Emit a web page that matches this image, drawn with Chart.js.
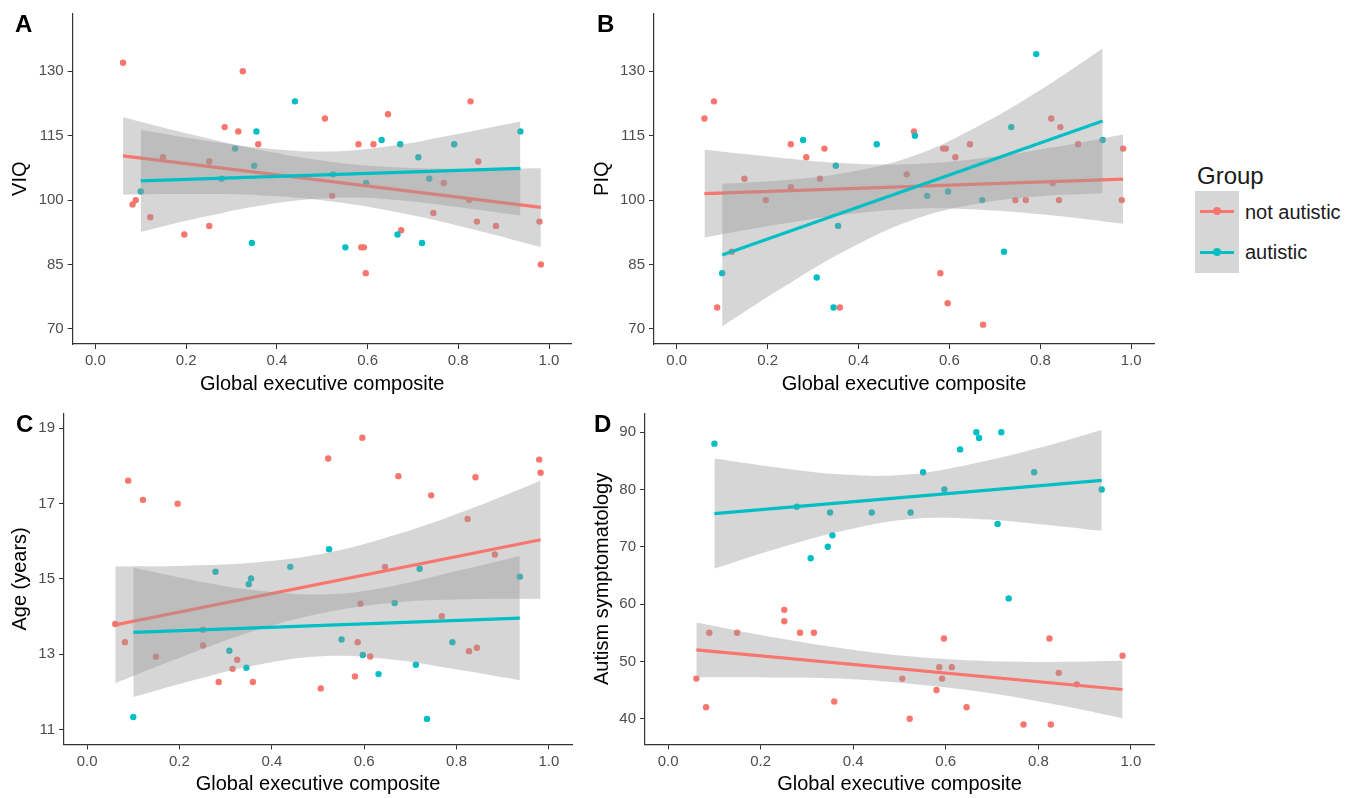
<!DOCTYPE html>
<html>
<head>
<meta charset="utf-8">
<script src="https://cdn.jsdelivr.net/npm/chart.js@4.4.1/dist/chart.umd.min.js"></script>
<style>
  html, body { margin: 0; padding: 0; background: #fff; }
  body { width: 1354px; height: 798px; position: relative; overflow: hidden;
         font-family: "Liberation Sans", Arial, sans-serif; }
  canvas { position: absolute; }
  .tag { position: absolute; font-weight: bold; font-size: 24px; line-height: 24px; color: #000; }
  .legend-title { position: absolute; left: 1197px; top: 164px; font-size: 24px; line-height: 24px; color: #1a1a1a; }
  .key-bg { position: absolute; left: 1195px; top: 191px; width: 44px; height: 82px; background: #d6d6d6; }
  .key-line { position: absolute; left: 1200px; width: 34px; height: 3px; }
  .key-dot { position: absolute; left: 1213px; width: 8px; height: 8px; border-radius: 50%; }
  .key-label { position: absolute; left: 1245px; font-size: 20px; line-height: 20px; color: #1a1a1a; }
</style>
</head>
<body>
<canvas id="pA" width="590" height="400" style="left:0;top:0"></canvas>
<canvas id="pB" width="590" height="400" style="left:580px;top:0"></canvas>
<canvas id="pC" width="590" height="398" style="left:0;top:400px"></canvas>
<canvas id="pD" width="590" height="398" style="left:580px;top:400px"></canvas>

<div class="tag" style="left:15px;top:12px">A</div>
<div class="tag" style="left:597px;top:12px">B</div>
<div class="tag" style="left:16px;top:412px">C</div>
<div class="tag" style="left:594px;top:412px">D</div>

<div class="legend-title">Group</div>
<div class="key-bg"></div>
<div class="key-line" style="top:210px;background:#F8766D"></div>
<div class="key-dot" style="top:207px;background:#F8766D"></div>
<div class="key-line" style="top:251px;background:#00BFC4"></div>
<div class="key-dot" style="top:248px;background:#00BFC4"></div>
<div class="key-label" style="top:202px">not autistic</div>
<div class="key-label" style="top:242px">autistic</div>

<script>
// x = global executive composite, one value per participant
const redX  = [0.061, 0.082, 0.089, 0.121, 0.149, 0.196, 0.251, 0.251, 0.285, 0.315, 0.325, 0.359, 0.506, 0.522, 0.580,
               0.586, 0.592, 0.596, 0.613, 0.645, 0.674, 0.745, 0.768, 0.824, 0.827, 0.841, 0.844, 0.883, 0.979, 0.982];
const tealX = [0.100, 0.278, 0.308, 0.345, 0.350, 0.355, 0.440, 0.524, 0.551, 0.597, 0.631, 0.666, 0.672, 0.712, 0.720,
               0.736, 0.791, 0.937];

// A: VIQ
const viqRed  = [132, 99, 100, 96, 110, 92, 94, 109, 117, 116, 130, 113, 119, 101, 113,
                 89, 89, 83, 113, 120, 93, 97, 104, 100, 123, 95, 109, 94, 95, 85];
const viqTeal = [102, 105, 112, 90, 108, 116, 123, 106, 89, 104, 114, 92, 113, 110, 90, 105, 113, 116];
// B: PIQ
const piqRed  = [119, 123, 75, 88, 105, 100, 113, 103, 110, 105, 112, 75, 106, 116, 83,
                 112, 112, 76, 110, 113, 71, 100, 100, 119, 104, 100, 117, 113, 100, 112];
const piqTeal = [83, 114, 82, 75, 108, 94, 113, 115, 101, 102, null, null, 100, null, 88, 117, 134, 114];
// C: age
const ageRed  = [13.8, 13.32, 17.61, 17.10, 12.93, 17.0, 13.23, 13.65, 12.26, 12.61, 12.85, 12.26, 12.09, 18.2, 12.41,
                 13.32, 14.34, 18.75, 12.94, 15.32, 17.73, 17.22, 14.01, 16.59, 13.08, 17.70, 13.17, 15.65, 18.17, 17.82];
const ageTeal = [11.33, 15.19, 13.09, 12.64, 14.86, 15.01, 15.32, 15.79, 13.39, 12.98, 12.47, 14.36, null, 12.72, 15.27,
                 11.28, 13.32, 15.06];
// D: autism symptomatology
const autRed  = [47, 42, 55, null, 55, null, 59, 57, 55, 55, null, 43, 47, 40, 45,
                 49, 47, 54, 49, 42, null, null, 39, 54, 39, null, 48, 46, null, 51];
const autTeal = [88, 77, 68, 70, 76, 72, 76, 76, 83, 80, 87, 90, 89, 74, 90, 61, 83, 80];

// fitted lines and confidence bands
const redFitX  = [0.061, 0.215, 0.368, 0.522, 0.675, 0.829, 0.982];
const tealFitX = [0.100, 0.240, 0.379, 0.519, 0.658, 0.798, 0.937];

const viqRedLine  = [110.3, 98.3];
const viqRedUp    = [119.3, 115.2, 111.6, 108.9, 107.6, 107.3, 107.4];
const viqRedLo    = [101.3, 101.4, 101.1, 99.7, 97.0, 93.3, 89.1];
const viqTealLine = [104.5, 107.4];
const viqTealUp   = [116.3, 113.9, 112.0, 111.3, 112.7, 115.4, 118.3];
const viqTealLo   = [92.6, 96.1, 99.0, 100.5, 100.1, 98.4, 96.4];

const piqRedLine  = [101.5, 104.9];
const piqRedUp    = [111.7, 110.0, 108.6, 108.4, 109.8, 112.3, 115.3];
const piqRedLo    = [91.3, 94.2, 96.6, 98.0, 97.7, 96.4, 94.5];
const piqTealLine = [87.2, 118.4];
const piqTealUp   = [103.8, 104.7, 106.5, 110.2, 116.9, 125.5, 135.3];
const piqTealLo   = [70.6, 80.1, 88.7, 95.4, 99.1, 100.9, 101.6];

const ageRedLine  = [13.78, 16.04];
const ageRedUp    = [15.33, 15.35, 15.44, 15.70, 16.20, 16.86, 17.61];
const ageRedLo    = [12.23, 12.97, 13.64, 14.12, 14.38, 14.46, 14.47];
const ageTealLine = [13.58, 13.96];
const ageTealUp   = [15.30, 14.94, 14.68, 14.59, 14.80, 15.20, 15.61];
const ageTealLo   = [11.86, 12.34, 12.74, 12.95, 12.86, 12.60, 12.31];

const autRedLine  = [52.0, 45.1];
const autRedUp    = [56.8, 54.4, 52.4, 50.9, 50.1, 49.9, 50.1];
const autRedLo    = [47.2, 47.2, 47.0, 46.1, 44.7, 42.6, 40.1];
const autTealLine = [75.8, 81.6];
const autTealUp   = [85.4, 83.8, 82.6, 82.6, 84.5, 87.2, 90.4];
const autTealLo   = [66.2, 69.8, 72.8, 74.8, 74.9, 74.0, 72.8];

const xTicks   = [0, 0.2, 0.4, 0.6, 0.8, 1.0];
const iqTicks  = [70, 85, 100, 115, 130];
const ageTicks = [11, 13, 15, 17, 19];
const autTicks = [40, 50, 60, 70, 80, 90];

const RED = '#F8766D', TEAL = '#00BFC4', BAND = 'rgba(153,153,153,0.4)';
const FONT = '"Liberation Sans", Arial, sans-serif';
const X_AXIS_H = 52;

function pts(xs, ys) {
  return xs.map((x, i) => ({ x: x, y: ys[i] })).filter(p => p.y !== null);
}

function groupSets(xs, ys, fitX, line, up, lo, color, base) {
  const ends = [fitX[0], fitX[fitX.length - 1]];
  return [
    { type: 'line', data: pts(fitX, up), fill: '+1', backgroundColor: BAND, borderColor: 'rgba(0,0,0,0)',
      borderWidth: 0, pointRadius: 0, tension: 0.4, order: base + 1 },
    { type: 'line', data: pts(fitX, lo), fill: false, borderColor: 'rgba(0,0,0,0)',
      borderWidth: 0, pointRadius: 0, tension: 0.4, order: base + 1 },
    { type: 'line', data: pts(ends, line), fill: false, borderColor: color, borderWidth: 3.2,
      pointRadius: 0, order: base },
    { type: 'scatter', data: pts(xs, ys), backgroundColor: color, borderWidth: 0, pointRadius: 3.2, order: 10 }
  ];
}

function makePanel(p) {
  const datasets = []
    .concat(groupSets(tealX, p.tealY, tealFitX, p.tealLine, p.tealUp, p.tealLo, TEAL, 1))
    .concat(groupSets(redX, p.redY, redFitX, p.redLine, p.redUp, p.redLo, RED, 3));
  const cv = document.getElementById(p.id);
  new Chart(cv, {
    type: 'scatter',
    data: { datasets: datasets },
    options: {
      responsive: false,
      animation: false,
      devicePixelRatio: 1,
      layout: { padding: { left: 0, top: p.area.t, right: cv.width - p.area.r,
                           bottom: cv.height - p.area.b - X_AXIS_H } },
      plugins: { legend: { display: false }, tooltip: { enabled: false } },
      scales: {
        x: {
          type: 'linear', min: -0.05, max: 1.05,
          afterBuildTicks: s => { s.ticks = xTicks.map(v => ({ value: v })); },
          afterFit: s => { s.height = X_AXIS_H; s.paddingLeft = 0; s.paddingRight = 0; },
          grid: { drawOnChartArea: false, drawTicks: true, tickLength: 5, tickColor: '#333', tickWidth: 1 },
          border: { display: true, color: '#333', width: 1.2 },
          ticks: { color: '#4d4d4d', font: { family: FONT, size: 15 }, padding: 3, maxRotation: 0,
                   autoSkip: false, callback: v => v.toFixed(1) },
          title: { display: true, text: 'Global executive composite', color: '#000',
                   font: { family: FONT, size: 20 }, padding: { top: 0, bottom: 0 } }
        },
        y: {
          type: 'linear', min: p.yMin, max: p.yMax,
          afterBuildTicks: s => { s.ticks = p.yTicks.map(v => ({ value: v })); },
          afterFit: s => { s.width = p.area.l; s.paddingTop = 0; s.paddingBottom = 0; },
          grid: { drawOnChartArea: false, drawTicks: true, tickLength: 5, tickColor: '#333', tickWidth: 1 },
          border: { display: true, color: '#333', width: 1.2 },
          ticks: { color: '#4d4d4d', font: { family: FONT, size: 15 }, padding: 4, autoSkip: false },
          title: { display: true, text: p.yTitle, color: '#000',
                   font: { family: FONT, size: 20 }, padding: { top: p.titlePad, bottom: 0 } }
        }
      }
    }
  });
}

const panels = [
  { id: 'pA', area: { l: 72.7, t: 13.3, r: 571.7, b: 344 }, yMin: 66.5, yMax: 143.5, yTicks: iqTicks,
    yTitle: 'VIQ', titlePad: 8, redY: viqRed, tealY: viqTeal,
    redLine: viqRedLine, redUp: viqRedUp, redLo: viqRedLo, tealLine: viqTealLine, tealUp: viqTealUp, tealLo: viqTealLo },
  { id: 'pB', area: { l: 74, t: 13.3, r: 574, b: 344 }, yMin: 66.5, yMax: 143.5, yTicks: iqTicks,
    yTitle: 'PIQ', titlePad: 10, redY: piqRed, tealY: piqTeal,
    redLine: piqRedLine, redUp: piqRedUp, redLo: piqRedLo, tealLine: piqTealLine, tealUp: piqTealUp, tealLo: piqTealLo },
  { id: 'pC', area: { l: 64, t: 13.3, r: 572, b: 344.5 }, yMin: 10.6, yMax: 19.4, yTicks: ageTicks,
    yTitle: 'Age (years)', titlePad: 8.5, redY: ageRed, tealY: ageTeal,
    redLine: ageRedLine, redUp: ageRedUp, redLo: ageRedLo, tealLine: ageTealLine, tealUp: ageTealUp, tealLo: ageTealLo },
  { id: 'pD', area: { l: 65, t: 13.3, r: 574, b: 344.5 }, yMin: 35.5, yMax: 93.3, yTicks: autTicks,
    yTitle: 'Autism symptomatology', titlePad: 10, redY: autRed, tealY: autTeal,
    redLine: autRedLine, redUp: autRedUp, redLo: autRedLo, tealLine: autTealLine, tealUp: autTealUp, tealLo: autTealLo }
];

panels.forEach(makePanel);
</script>
</body>
</html>
